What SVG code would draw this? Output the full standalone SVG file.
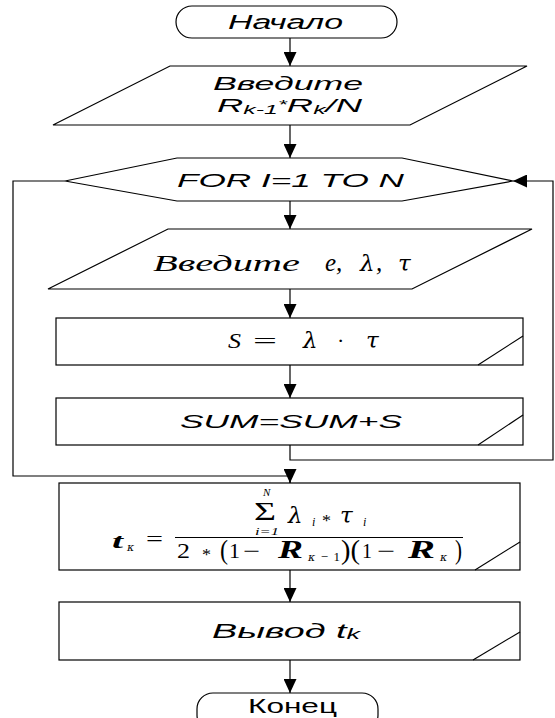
<svg xmlns="http://www.w3.org/2000/svg" width="555" height="718" viewBox="0 0 555 718">
<style>
.s{fill:#fff;stroke:#000;stroke-width:1.2}
.d{fill:none;stroke:#000;stroke-width:1.1}
.c{fill:none;stroke:#000;stroke-width:1.2}
.a{font-family:"Liberation Sans",Arial,sans-serif;font-style:italic;fill:#000}
.n{font-family:"Liberation Sans",Arial,sans-serif;fill:#000}
.t{font-family:"Liberation Serif","Times New Roman",serif;font-style:italic;fill:#000}
.g{font-family:"DejaVu Serif","Liberation Serif",serif;font-style:italic;fill:#000}
.r{font-family:"Liberation Serif","Times New Roman",serif;fill:#000}
.b{font-family:"Liberation Serif","Times New Roman",serif;font-style:italic;font-weight:bold;fill:#000}
</style>
<defs>
<marker id="ah" markerUnits="userSpaceOnUse" markerWidth="14" markerHeight="13" refX="14" refY="6.5" orient="auto">
<path d="M0,0 L14,6.5 L0,13 z" fill="#000"/>
</marker>
</defs>

<g id="connectors">
<line class="c" x1="290" y1="38" x2="290" y2="66" marker-end="url(#ah)"/>
<line class="c" x1="290" y1="125" x2="290" y2="158" marker-end="url(#ah)"/>
<line class="c" x1="290" y1="201" x2="290" y2="229" marker-end="url(#ah)"/>
<line class="c" x1="290" y1="289" x2="290" y2="318" marker-end="url(#ah)"/>
<line class="c" x1="290" y1="365" x2="290" y2="398" marker-end="url(#ah)"/>
<polyline class="c" points="290,445 290,460 553,460 553,181 513,181" marker-end="url(#ah)"/>
<polyline class="c" points="65,181 13,181 13,476 290,476 290,483" />
<line class="c" x1="290" y1="470" x2="290" y2="483" marker-end="url(#ah)"/>
<line class="c" x1="290" y1="570" x2="290" y2="602" marker-end="url(#ah)"/>
<line class="c" x1="290" y1="660" x2="290" y2="693" marker-end="url(#ah)"/>
</g>

<g id="start">
<rect class="s" x="176" y="6" width="221" height="32" rx="16" ry="16"/>
<text class="a" x="228" y="29" font-size="19.5" textLength="115" lengthAdjust="spacingAndGlyphs">Начало</text>
</g>

<g id="input1">
<polygon class="s" points="170,66 527,66 410,125 53,125"/>
<text class="a" x="213" y="90" font-size="19" textLength="150" lengthAdjust="spacingAndGlyphs">Введите</text>
<text class="a" x="217" y="112" font-size="19" textLength="145" lengthAdjust="spacingAndGlyphs">R<tspan font-size="13" dy="2">k-1</tspan><tspan font-size="12" dy="-5">*</tspan><tspan dy="3">R</tspan><tspan font-size="13" dy="2">k</tspan><tspan dy="-2">/N</tspan></text>
</g>

<g id="loop">
<polygon class="s" points="65,181 177,158 402,158 513,181 402,201 177,201"/>
<text class="a" x="177" y="187" font-size="19" textLength="227" lengthAdjust="spacingAndGlyphs">FOR I=1 TO N</text>
</g>

<g id="input2">
<polygon class="s" points="168,229 532,229 412,289 48,289"/>
<text class="t" x="153" y="271" font-size="23" textLength="147" lengthAdjust="spacingAndGlyphs">Введите</text>
<text class="t" x="325" y="271" font-size="25">e,</text>
<text class="g" x="360" y="271" font-size="23">λ</text>
<text class="t" x="376" y="271" font-size="25">,</text>
<text class="g" x="398" y="271" font-size="23">τ</text>
</g>

<g id="calcS">
<rect class="s" x="56" y="318" width="467" height="47"/>
<line class="d" x1="478" y1="365" x2="523" y2="336"/>
<text class="t" x="228" y="348" font-size="22" textLength="13" lengthAdjust="spacingAndGlyphs">S</text>
<text class="r" x="253" y="348" font-size="22" textLength="24" lengthAdjust="spacingAndGlyphs">=</text>
<text class="g" x="303" y="348" font-size="23">λ</text>
<text class="r" x="337" y="348" font-size="22">·</text>
<text class="g" x="366" y="348" font-size="23">τ</text>
</g>

<g id="sum">
<rect class="s" x="56" y="398" width="467" height="47"/>
<line class="d" x1="478" y1="445" x2="523" y2="415"/>
<text class="a" x="180" y="428" font-size="18.5" textLength="222" lengthAdjust="spacingAndGlyphs">SUM=SUM+S</text>
</g>

<g id="formula">
<rect class="s" x="59" y="483" width="461" height="87"/>
<line class="d" x1="475" y1="570" x2="520" y2="542"/>
<text class="b" x="112" y="548" font-size="22" textLength="11" lengthAdjust="spacingAndGlyphs">t</text>
<text class="g" x="127" y="551" font-size="11">κ</text>
<text class="r" x="146" y="546" font-size="22" textLength="17" lengthAdjust="spacingAndGlyphs">=</text>
<line x1="175" y1="537.5" x2="463" y2="537.5" stroke="#000" stroke-width="1.1"/>
<text class="t" x="263" y="496" font-size="11">N</text>
<text class="r" x="254" y="520" font-size="25" textLength="22" lengthAdjust="spacingAndGlyphs">Σ</text>
<text class="t" x="255" y="535" font-size="10" textLength="24" lengthAdjust="spacingAndGlyphs">i=1</text>
<text class="g" x="288" y="523" font-size="23">λ</text>
<text class="t" x="312" y="526" font-size="12">i</text>
<text class="r" x="322" y="526" font-size="16" textLength="9" lengthAdjust="spacingAndGlyphs">*</text>
<text class="g" x="340" y="523" font-size="23">τ</text>
<text class="t" x="363" y="526" font-size="12">i</text>
<text class="r" x="177" y="558" font-size="21" textLength="13" lengthAdjust="spacingAndGlyphs">2</text>
<text class="r" x="202" y="560" font-size="16" textLength="9" lengthAdjust="spacingAndGlyphs">*</text>
<text class="r" x="220" y="559" font-size="27" textLength="8" lengthAdjust="spacingAndGlyphs">(</text>
<text class="r" x="229" y="558" font-size="21" textLength="11" lengthAdjust="spacingAndGlyphs">1</text>
<text class="r" x="243" y="558" font-size="21" textLength="17" lengthAdjust="spacingAndGlyphs">−</text>
<text class="b" x="278" y="558" font-size="25" textLength="25" lengthAdjust="spacingAndGlyphs">R</text>
<text class="r" x="308" y="561" font-size="13" textLength="32" lengthAdjust="spacing"><tspan class="g" font-size="11">κ</tspan>−1</text>
<text class="r" x="341" y="559" font-size="27" textLength="19" lengthAdjust="spacingAndGlyphs">)(</text>
<text class="r" x="362" y="558" font-size="21" textLength="10" lengthAdjust="spacingAndGlyphs">1</text>
<text class="r" x="377" y="558" font-size="21" textLength="18" lengthAdjust="spacingAndGlyphs">−</text>
<text class="b" x="408" y="558" font-size="25" textLength="27" lengthAdjust="spacingAndGlyphs">R</text>
<text class="g" x="440" y="561" font-size="11">κ</text>
<text class="r" x="455" y="559" font-size="27" textLength="7" lengthAdjust="spacingAndGlyphs">)</text>
</g>

<g id="output">
<rect class="s" x="59" y="602" width="461" height="58"/>
<line class="d" x1="473" y1="660" x2="520" y2="632"/>
<text class="a" x="212" y="638" font-size="19.5" textLength="148" lengthAdjust="spacingAndGlyphs">Вывод t<tspan font-size="14" dy="1">k</tspan></text>
</g>

<g id="end">
<rect class="s" x="197" y="693" width="181" height="38" rx="16" ry="16"/>
<text class="n" x="248" y="713" font-size="21" textLength="89" lengthAdjust="spacingAndGlyphs">Конец</text>
</g>
</svg>
